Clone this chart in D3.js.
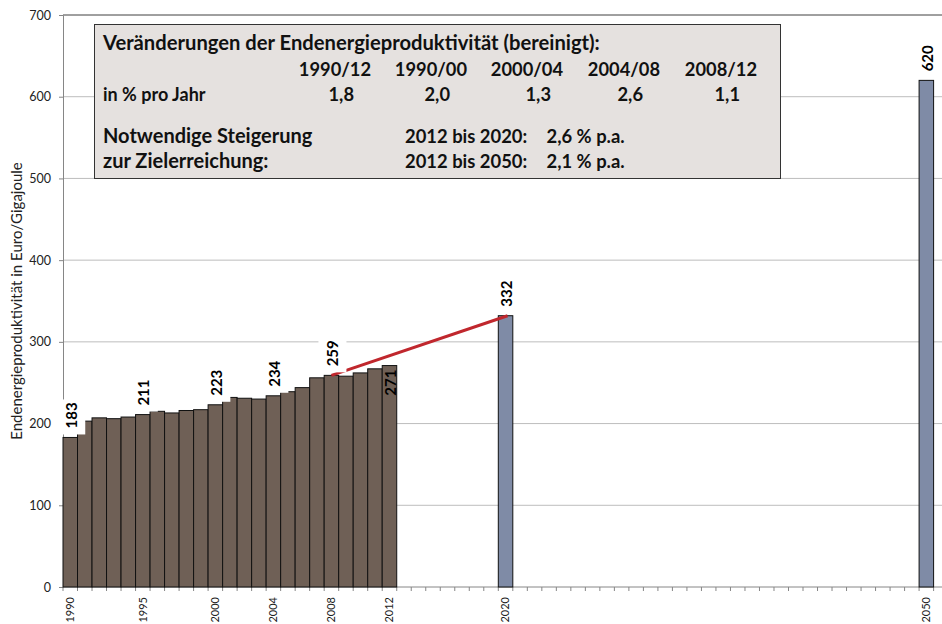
<!DOCTYPE html>
<html>
<head>
<meta charset="utf-8">
<script src="https://cdn.jsdelivr.net/npm/d3@7"></script>
<style>
  body { margin: 0; background: #fff; }
  svg { font-family: Lato, "Open Sans", sans-serif; }
</style>
</head>
<body>
<div class="chart-wrapper"></div>
<script>
// bars: years and Endenergieproduktivität (Euro/GJ)
const years = [1990, 1991, 1992, 1993, 1994, 1995, 1996, 1997, 1998, 1999, 2000, 2001,
  2002, 2003, 2004, 2005, 2006, 2007, 2008, 2009, 2010, 2011, 2012, 2020, 2050];
const values = [183, 203, 207, 206, 208, 211, 215, 213, 216, 217, 223, 232,
  231, 230, 234, 239, 244, 256, 259, 258, 262, 267, 271, 332, 620];
const targetYears = [2020, 2050];
const labelYears = [1990, 1995, 2000, 2004, 2008, 2012, 2020, 2050];
const tickYears = [1990, 1995, 2000, 2004, 2008, 2012, 2020, 2050];
const yTicks = [0, 100, 200, 300, 400, 500, 600, 700];
// trend line 2008 -> 2020
const trendYears = [2008, 2020];

// text box
const boxTitle = "Veränderungen der Endenergieproduktivität (bereinigt):";
const periods = ["1990/12", "1990/00", "2000/04", "2004/08", "2008/12"];
const rates = ["1,8", "2,0", "1,3", "2,6", "1,1"];
const needLabels = ["Notwendige Steigerung", "zur Zielerreichung:"];
const needRanges = ["2012 bis 2020:", "2012 bis 2050:"];
const needRates = ["2,6 % p.a.", "2,1 % p.a."];

const width = 942, height = 624;
const plotLeft = 63, plotRight = 942, plotTop = 15, plotBottom = 587;

// category slots of the x axis (2050 sits in the last one)
const slots = d3.range(1990, 2049).concat([2050]);

let x = d3.scaleBand()
  .domain(slots)
  .range([plotLeft, 933.6])
  .padding(0);

let y = d3.scaleLinear()
  .domain([0, 700])
  .range([plotBottom, plotTop]);

let svg = d3.select(".chart-wrapper")
  .append("svg")
  .attr("width", width)
  .attr("height", height);

// gridlines
svg.selectAll(".grid")
  .data(yTicks.filter(d => d > 0 && d < 700))
  .enter()
  .append("line")
  .attr("x1", plotLeft)
  .attr("x2", plotRight)
  .attr("y1", d => y(d))
  .attr("y2", d => y(d))
  .attr("stroke", "#bdbdbd")
  .attr("stroke-width", 1);

// top border
svg.append("line")
  .attr("x1", plotLeft).attr("x2", plotRight)
  .attr("y1", y(700)).attr("y2", y(700))
  .attr("stroke", "#404040");

// y axis
let yAxis = d3.axisLeft(y).tickValues(yTicks).tickSize(4).tickPadding(8);
let gy = svg.append("g")
  .attr("transform", `translate(${plotLeft},0)`)
  .call(yAxis);
gy.select(".domain").attr("stroke", "#868686");
gy.selectAll(".tick line").attr("stroke", "#868686");
gy.selectAll(".tick text")
  .attr("font-size", 12.5)
  .attr("fill", "#222")
  .attr("font-family", "Lato, sans-serif");

// x axis: ticks at every slot boundary
let boundaries = slots.map(d => x(d)).concat([x(slots[slots.length - 1]) + x.bandwidth()]);
svg.selectAll(".xtick")
  .data(boundaries)
  .enter()
  .append("line")
  .attr("x1", d => d).attr("x2", d => d)
  .attr("y1", plotBottom).attr("y2", plotBottom + 4)
  .attr("stroke", "#868686");
svg.append("line")
  .attr("x1", plotLeft).attr("x2", plotRight)
  .attr("y1", plotBottom).attr("y2", plotBottom)
  .attr("stroke", "#868686");

svg.selectAll(".xlabel")
  .data(tickYears)
  .enter()
  .append("text")
  .attr("transform", d => `translate(${x(d) + x.bandwidth() / 2},${plotBottom + 10}) rotate(-90)`)
  .attr("text-anchor", "end")
  .attr("dy", "0.35em")
  .attr("font-size", 11)
  .attr("fill", "#222")
  .text(d => d);

// y title
svg.append("text")
  .attr("transform", `translate(17,301) rotate(-90)`)
  .attr("text-anchor", "middle")
  .attr("dy", "0.35em")
  .attr("font-size", 15)
  .attr("fill", "#222")
  .text("Endenergieproduktivität in Euro/Gigajoule");

// bars
let barData = years.map((d, i) => ({ year: d, value: values[i] }));
svg.selectAll(".bar")
  .data(barData)
  .enter()
  .append("rect")
  .attr("x", d => x(d.year))
  .attr("y", d => y(d.value))
  .attr("width", x.bandwidth())
  .attr("height", d => y(0) - y(d.value))
  .attr("fill", d => targetYears.includes(d.year) ? "#7f8ba6" : "#6f6056")
  .attr("stroke", "#111")
  .attr("stroke-width", 1);

// trend line
let trend = trendYears.map(yr => barData.find(d => d.year === yr));
svg.append("line")
  .attr("x1", x(trend[0].year) + x.bandwidth() / 2)
  .attr("y1", y(trend[0].value))
  .attr("x2", x(trend[1].year) + x.bandwidth() / 2 + 2)
  .attr("y2", y(trend[1].value))
  .attr("stroke", "#c0272d")
  .attr("stroke-width", 3);

// data labels
let labelData = barData.filter(d => labelYears.includes(d.year));
labelData.forEach(d => {
  let cx = x(d.year) + x.bandwidth() / 2 + 1;
  let inside = d.year === 2012;
  if (!inside) {
    svg.append("rect")
      .attr("x", cx - 14)
      .attr("y", y(d.value) - 38)
      .attr("width", 28)
      .attr("height", 35)
      .attr("fill", "#fff");
    svg.append("text")
      .attr("transform", `translate(${cx},${y(d.value) - 9}) rotate(-90)`)
      .attr("text-anchor", "start")
      .attr("dy", "0.35em")
      .attr("font-size", 15)
      .attr("font-weight", "bold")
      .attr("fill", "#000")
      .text(d.value);
  } else {
    svg.append("text")
      .attr("transform", `translate(${cx},${y(d.value) + 4}) rotate(-90)`)
      .attr("text-anchor", "end")
      .attr("dy", "0.35em")
      .attr("font-size", 15)
      .attr("font-weight", "bold")
      .attr("fill", "#000")
      .text(d.value);
  }
});

// info box
svg.append("rect")
  .attr("x", 94.5).attr("y", 24.5)
  .attr("width", 686).attr("height", 154)
  .attr("fill", "#e5e1df")
  .attr("stroke", "#333")
  .attr("stroke-width", 1);

let box = svg.append("g")
  .attr("font-weight", "bold")
  .attr("fill", "#111");

box.append("text")
  .attr("x", 103).attr("y", 49.5)
  .attr("font-size", 20.2)
  .text(boxTitle);

// right edges of the table columns
const headEnds = [371, 467, 563, 660, 757];
const rateEnds = [354, 450, 551, 643, 740];
box.selectAll(".period")
  .data(periods)
  .enter()
  .append("text")
  .attr("x", (d, i) => headEnds[i])
  .attr("y", 75.5)
  .attr("text-anchor", "end")
  .attr("font-size", 18.3)
  .text(d => d);

box.append("text")
  .attr("x", 103).attr("y", 101)
  .attr("font-size", 18)
  .text("in % pro Jahr");
box.selectAll(".rate")
  .data(rates)
  .enter()
  .append("text")
  .attr("x", (d, i) => rateEnds[i])
  .attr("y", 101)
  .attr("text-anchor", "end")
  .attr("font-size", 18.3)
  .text(d => d);

needLabels.forEach((d, i) => {
  let yy = 142.7 + i * 25.6;
  box.append("text").attr("x", 103).attr("y", yy).attr("font-size", 20).text(d);
  box.append("text").attr("x", 405).attr("y", yy).attr("font-size", 18.4).text(needRanges[i]);
  box.append("text").attr("x", 546.5).attr("y", yy).attr("font-size", 18.4).text(needRates[i]);
});
</script>
</body>
</html>
